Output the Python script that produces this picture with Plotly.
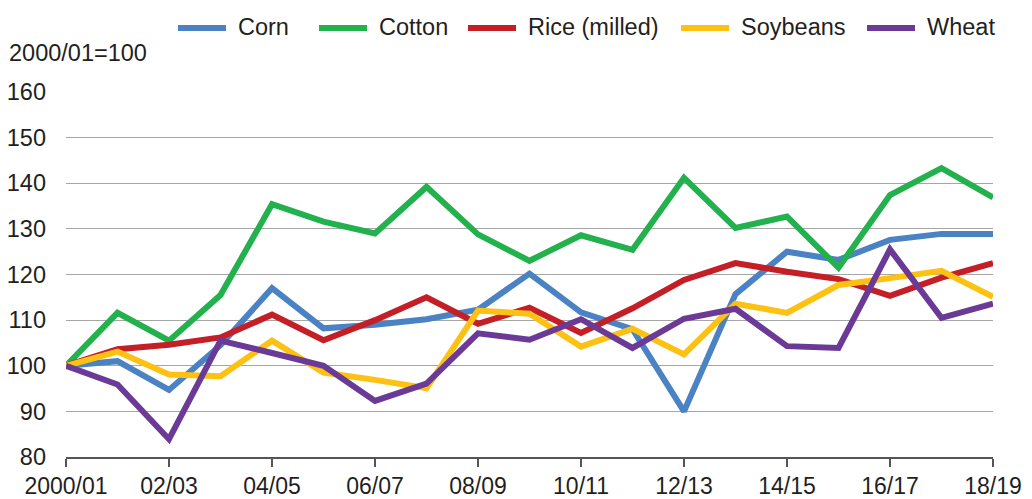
import plotly.graph_objects as go

years = list(range(19))
tick_vals = [0, 2, 4, 6, 8, 10, 12, 14, 16, 18]
tick_text = ["2000/01", "02/03", "04/05", "06/07", "08/09", "10/11", "12/13", "14/15", "16/17", "18/19"]

corn = [100, 101, 94.7, 104.5, 117, 108.2, 109, 110.2, 112.3, 120.2, 111.7, 108, 90, 115.7, 125, 123.2, 127.6, 128.9, 128.9]
cotton = [100, 111.6, 105.5, 115.5, 135.4, 131.6, 129, 139.2, 128.8, 123, 128.6, 125.4, 141.2, 130.2, 132.7, 121.5, 137.4, 143.3, 136.9]
rice = [100, 103.6, 104.6, 106.2, 111.2, 105.6, 110, 115, 109.2, 112.7, 107.2, 112.6, 118.8, 122.5, 120.6, 119, 115.3, 119.3, 122.5]
soybeans = [100, 103.1, 98.1, 97.7, 105.5, 98.5, 96.9, 95.1, 112.1, 111.4, 104.2, 108.1, 102.5, 113.6, 111.6, 117.7, 119.2, 120.8, 115.1]
wheat = [100, 95.9, 83.9, 105.5, 102.8, 100, 92.3, 96.1, 107.1, 105.7, 110.2, 103.9, 110.3, 112.5, 104.3, 103.9, 125.5, 110.5, 113.6]

names = ["Corn", "Cotton", "Rice (milled)", "Soybeans", "Wheat"]
values = [corn, cotton, rice, soybeans, wheat]
colors = ["#4a82c3", "#22b14c", "#c41e27", "#fdc113", "#6b3a97"]

# legend layout (pixel positions of each legend entry's line start)
W, H = 1032, 499
ML, MR, MT, MB = 66, 39, 92, 42
PW, PH = W - ML - MR, H - MT - MB
legend_px = [178, 319, 468, 681, 867]
legend_line_len = 48
legend_text_gap = 10
legend_y_px = 27

def px_x(px):
    return (px - ML) / PW

def px_y(py):
    return 1 + (MT - py) / PH

FS = 23.5
LW = 6
fig = go.Figure()
shapes = []
annotations = []
for name, vals, color, lx in zip(names, values, colors, legend_px):
    fig.add_trace(go.Scatter(x=years, y=vals, name=name, mode="lines",
                             line=dict(color=color, width=LW), showlegend=False))
    shapes.append(dict(type="line", xref="paper", yref="paper",
                       x0=px_x(lx), x1=px_x(lx + legend_line_len),
                       y0=px_y(legend_y_px + 1), y1=px_y(legend_y_px + 1),
                       line=dict(color=color, width=LW)))
    annotations.append(dict(text=name, xref="paper", yref="paper",
                            x=px_x(lx + legend_line_len + legend_text_gap), y=px_y(legend_y_px),
                            xanchor="left", yanchor="middle", showarrow=False,
                            font=dict(size=FS)))

annotations.append(dict(text="2000/01=100", xref="paper", yref="paper",
                        x=px_x(7), y=px_y(53), xanchor="left", yanchor="middle",
                        showarrow=False, font=dict(size=FS)))

font_family = "Liberation Sans, Arial, sans-serif"

fig.update_layout(
    width=W, height=H,
    margin=dict(l=ML, r=MR, t=MT, b=MB, autoexpand=False),
    paper_bgcolor="white", plot_bgcolor="white",
    font=dict(family=font_family, size=FS, color="#231f20"),
    showlegend=False,
    xaxis=dict(range=[0, 18], tickvals=tick_vals, ticktext=tick_text,
               showgrid=False, zeroline=False, showline=True, linecolor="#555555",
               linewidth=1.5, ticks="outside", ticklen=8, tickcolor="#555555",
               tickwidth=1.5, tickfont=dict(size=FS - 0.5), ticklabelstandoff=0, automargin=False),
    yaxis=dict(range=[80, 160], tickvals=[80, 90, 100, 110, 120, 130, 140, 150, 160],
               showgrid=True, gridcolor="#a6a6a6", gridwidth=1.2, zeroline=False,
               showline=False, ticks="", ticklabelstandoff=19, tickfont=dict(size=FS),
               automargin=False),
    shapes=shapes,
    annotations=annotations,
)

fig.write_html("out.html", config={"displayModeBar": False},
               post_script="document.body.style.margin='0';document.body.style.overflow='hidden';")
